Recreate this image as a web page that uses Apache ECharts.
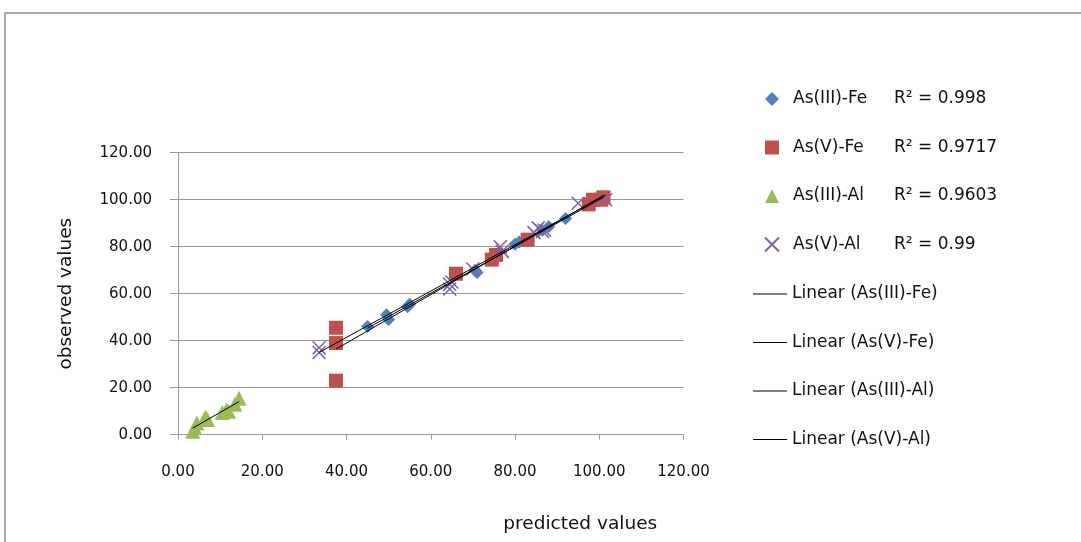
<!DOCTYPE html>
<html>
<head>
<meta charset="utf-8">
<script src="https://cdn.jsdelivr.net/npm/echarts@6/dist/echarts.min.js"></script>
<style>
  html, body { margin: 0; padding: 0; background: #fff; }
  #chart { width: 1081px; height: 542px; }
</style>
</head>
<body>
<div id="chart"></div>
<script>
// Observed vs predicted removal (%) for each arsenic / adsorbent pair
const seriesNames = ['As(III)-Fe', 'As(V)-Fe', 'As(III)-Al', 'As(V)-Al'];
const rSquared = ['0.998', '0.9717', '0.9603', '0.99'];

const asIIIFe = [
  [45, 46], [49.5, 51], [50, 49], [54.5, 54.5], [55, 55.5], [70.5, 70], [71, 69],
  [80, 81], [81, 82], [86.5, 87], [88, 88.5], [92, 92], [99, 99.5], [101, 100]
];
const asVFe = [
  [37.5, 45.5], [37.5, 39], [37.5, 23], [66, 68.5], [74.5, 74.5], [75.5, 76.5],
  [83, 83], [97.5, 98], [98.5, 100], [100.5, 100], [101, 101]
];
const asIIIAl = [
  [3.5, 1.5], [4, 3], [4.5, 5], [6.5, 7.5], [7, 6.5], [10.5, 9.5], [11.5, 10.5],
  [12, 10], [13.5, 13], [14.5, 15.5]
];
const asVAl = [
  [33.5, 35], [33.5, 37], [64.5, 62], [64.5, 64], [65, 65], [70, 70.5], [76.5, 80],
  [77, 78], [84.5, 86], [85.5, 88], [86.5, 86.5], [87, 87], [95, 98.5], [101.5, 100]
];
const xTicks = [0, 20, 40, 60, 80, 100, 120];
const yTicks = [0, 20, 40, 60, 80, 100, 120];

const allData = [asIIIFe, asVFe, asIIIAl, asVAl];
const colors = ['#4F81BD', '#C0504D', '#9BBB59', '#8064A2'];
const symbols = ['diamond', 'rect', 'triangle', 'path://M0,0L10,10M10,0L0,10'];
const symbolSizes = [13, 14, 15, 13];

// least-squares fit over the x-range of each series
function linearFit(pts) {
  const n = pts.length;
  let sx = 0, sy = 0, sxx = 0, sxy = 0;
  pts.forEach(([x, y]) => { sx += x; sy += y; sxx += x * x; sxy += x * y; });
  const b = (n * sxy - sx * sy) / (n * sxx - sx * sx);
  const a = (sy - b * sx) / n;
  const xs = pts.map(p => p[0]);
  const x0 = Math.min(...xs), x1 = Math.max(...xs);
  return [[x0, a + b * x0], [x1, a + b * x1]];
}

const font = '"DejaVu Sans", "Noto Sans", sans-serif';
const ink = '#111';
const scatterSeries = seriesNames.map((name, i) => ({
  name,
  type: 'scatter',
  data: allData[i],
  symbol: symbols[i],
  symbolSize: symbolSizes[i],
  itemStyle: i === 3
    ? { color: 'transparent', borderColor: colors[i], borderWidth: 1.6, opacity: 1 }
    : { color: colors[i], opacity: 1 },
  z: 2 + i
}));
const trendSeries = seriesNames.map((name, i) => ({
  name: 'Linear (' + name + ')',
  type: 'line',
  data: linearFit(allData[i]),
  symbol: 'none',
  lineStyle: { color: '#000', width: 1 },
  itemStyle: { color: '#000' },
  silent: true,
  z: 10
}));

const chart = echarts.init(document.getElementById('chart'), null, { renderer: 'canvas' });
chart.setOption({
  animation: false,
  backgroundColor: '#fff',
  textStyle: { fontFamily: font },
  graphic: [{
    type: 'rect',
    shape: { x: 5, y: 13, width: 1200, height: 700 },
    style: { fill: 'none', stroke: '#8c8c8c', lineWidth: 1.5 },
    silent: true
  }],
  grid: { left: 178, right: 397.5, top: 152.7, bottom: 107.3 },
  legend: [{
    orient: 'vertical',
    left: 759,
    top: 84,
    itemWidth: 14,
    itemHeight: 14,
    itemGap: 28.5,
    data: seriesNames,
    textStyle: {
      fontFamily: font, fontSize: 17, color: ink, lineHeight: 20,
      rich: {
        n: { fontFamily: font, fontSize: 17, color: ink, width: 101, padding: [0, 0, 0, 9] },
        r: { fontFamily: font, fontSize: 17, color: ink }
      }
    },
    formatter: name => '{n|' + name + '}{r|R² = ' + rSquared[seriesNames.indexOf(name)] + '}'
  }, {
    orient: 'vertical',
    left: 748,
    top: 279,
    itemWidth: 34,
    itemHeight: 1,
    itemGap: 28.5,
    icon: 'rect',
    data: seriesNames.map(n => ({ name: 'Linear (' + n + ')', icon: 'rect', itemStyle: { color: '#000' } })),
    textStyle: { fontFamily: font, fontSize: 17, color: ink, lineHeight: 20 }
  }],
  xAxis: {
    type: 'value',
    min: xTicks[0],
    max: xTicks[xTicks.length - 1],
    interval: xTicks[1] - xTicks[0],
    name: 'predicted values',
    nameLocation: 'middle',
    nameGap: 80,
    nameTextStyle: { fontFamily: font, fontSize: 18.5, color: ink, padding: [0, 0, 0, 299] },
    axisLine: { show: true, onZero: false, lineStyle: { color: '#999', width: 1 } },
    axisTick: { show: true, length: 5, lineStyle: { color: '#999' } },
    axisLabel: { margin: 30, fontFamily: font, fontSize: 15, color: ink, formatter: v => v.toFixed(2) },
    splitLine: { show: false }
  },
  yAxis: {
    type: 'value',
    min: yTicks[0],
    max: yTicks[yTicks.length - 1],
    interval: yTicks[1] - yTicks[0],
    name: 'observed values',
    nameLocation: 'middle',
    nameGap: 102,
    nameTextStyle: { fontFamily: font, fontSize: 18.5, color: ink },
    axisLine: { show: true, lineStyle: { color: '#999', width: 1 } },
    axisTick: { show: true, length: 8, lineStyle: { color: '#999' } },
    axisLabel: { margin: 26, fontFamily: font, fontSize: 15, color: ink, formatter: v => v.toFixed(2) },
    splitLine: { show: true, lineStyle: { color: '#999', width: 1 } }
  },
  series: scatterSeries.concat(trendSeries)
});
</script>
</body>
</html>
